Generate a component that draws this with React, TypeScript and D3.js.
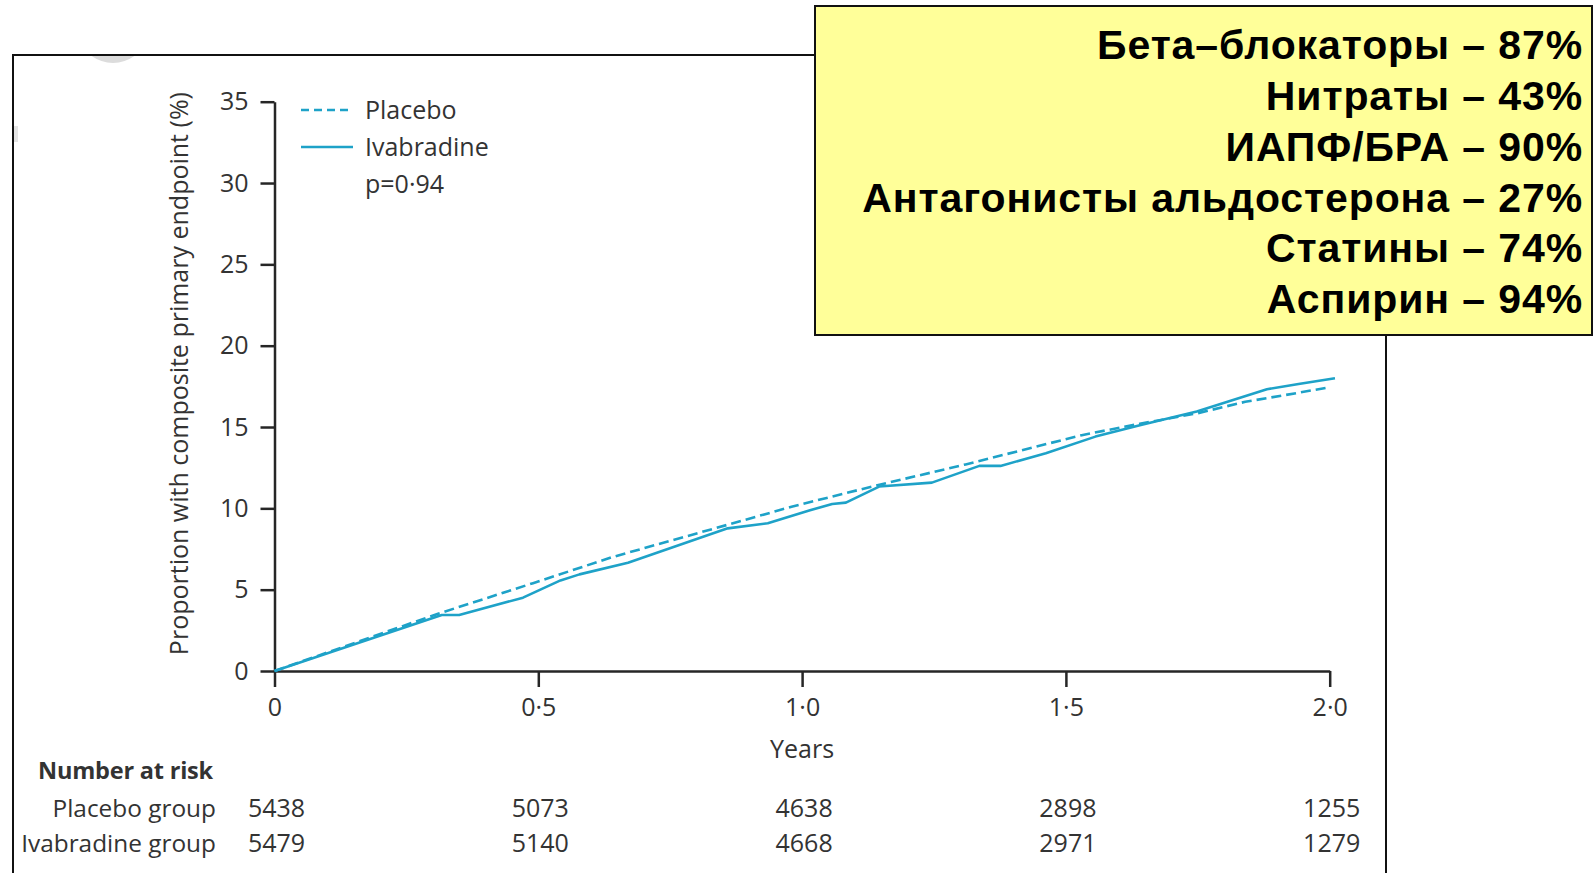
import React, { useEffect, useRef } from "react";
import * as d3 from "d3";

// Kaplan–Meier style cumulative curves (years, % with composite primary endpoint)
const placeboYears = [0, 0.31, 0.49, 0.64, 0.86, 0.98, 1.14, 1.31, 1.53, 1.64, 1.75, 1.84, 1.94, 2.0];
const placeboPct = [0, 3.52, 5.4, 7.0, 9.0, 10.1, 11.4, 12.7, 14.5, 15.2, 15.85, 16.55, 17.1, 17.45];

const ivabradineYears = [0, 0.317, 0.35, 0.471, 0.542, 0.578, 0.67, 0.859, 0.935, 1.015, 1.057, 1.083, 1.146, 1.246, 1.336, 1.376, 1.462, 1.556, 1.642, 1.748, 1.881, 1.941, 2.01];
const ivabradinePct = [0, 3.44, 3.44, 4.51, 5.57, 5.94, 6.66, 8.77, 9.08, 9.88, 10.27, 10.35, 11.34, 11.58, 12.61, 12.61, 13.39, 14.41, 15.13, 15.95, 17.32, 17.65, 18.0];

// Axis ticks
const yTicks = [0, 5, 10, 15, 20, 25, 30, 35];
const xTicks = [0, 0.5, 1, 1.5, 2];

// Number at risk table
const riskTimes = [0, 0.5, 1, 1.5, 2];
const riskPlacebo = [5438, 5073, 4638, 2898, 1255];
const riskIvabradine = [5479, 5140, 4668, 2971, 1279];

// Concomitant therapy panel
const drugClasses = ["Бета–блокаторы", "Нитраты", "ИАПФ/БРА", "Антагонисты альдостерона", "Статины", "Аспирин"];
const drugPercents = [87, 43, 90, 27, 74, 94];

const W = 1594;
const H = 873;
const CURVE = "#1ea2c8";
const AXIS = "#262626";
const TEXT = "#333333";
const FONT = "'Open Sans', 'Noto Sans', sans-serif";

export default function App() {
  const xAxisRef = useRef<SVGGElement>(null);
  const yAxisRef = useRef<SVGGElement>(null);

  const x = d3.scaleLinear().domain([0, 2]).range([274.5, 1329.7]);
  const y = d3.scaleLinear().domain([0, 35]).range([671, 101.7]);

  const line = d3
    .line<[number, number]>()
    .x((d) => x(d[0]))
    .y((d) => y(d[1]));

  const placeboPath = line(placeboYears.map((t, i) => [t, placeboPct[i]]) as [number, number][]) || "";
  const ivabradinePath = line(ivabradineYears.map((t, i) => [t, ivabradinePct[i]]) as [number, number][]) || "";

  useEffect(() => {
    const fmt = (v: number) => (v === 0 ? "0" : d3.format(".1f")(v).replace(".", "·"));

    const gx = d3.select(xAxisRef.current);
    gx.selectAll("*").remove();
    gx.call(
      d3
        .axisBottom(x)
        .tickValues(xTicks)
        .tickSize(16)
        .tickSizeOuter(0)
        .tickPadding(11)
        .tickFormat((d) => fmt(d as number))
    );
    gx.select(".domain").attr("stroke", AXIS).attr("stroke-width", 2.5);
    gx.selectAll(".tick line").attr("stroke", AXIS).attr("stroke-width", 2.5);
    gx.selectAll(".tick text")
      .attr("fill", TEXT)
      .attr("font-size", 25)
      .attr("font-family", FONT);

    const gy = d3.select(yAxisRef.current);
    gy.selectAll("*").remove();
    gy.call(
      d3
        .axisLeft(y)
        .tickValues(yTicks)
        .tickSize(14)
        .tickSizeOuter(0)
        .tickPadding(12)
        .tickFormat((d) => String(d))
    );
    gy.select(".domain").attr("stroke", AXIS).attr("stroke-width", 2.5);
    gy.selectAll(".tick line").attr("stroke", AXIS).attr("stroke-width", 2.5);
    gy.selectAll(".tick text")
      .attr("fill", TEXT)
      .attr("font-size", 25)
      .attr("font-family", FONT);
  }, []);

  const boxX = 815;
  const boxY = 6;
  const boxW = 777;
  const boxH = 329;

  return (
    <svg
      width={W}
      height={H}
      viewBox={`0 0 ${W} ${H}`}
      style={{ position: "absolute", left: 0, top: 0, background: "#ffffff" }}
    >
      <rect x={0} y={0} width={W} height={H} fill="#ffffff" />

      {/* faint slide decoration above the frame */}
      <path d="M 90 55 Q 113 71 136 55 Z" fill="#dcdcdc" />
      <rect x={14} y={126} width={4} height={16} fill="#e4e4e4" />

      {/* figure frame */}
      <path d={`M 13 ${H + 2} L 13 55 L 1386 55 L 1386 ${H + 2}`} fill="none" stroke="#111" strokeWidth={2} />

      {/* y axis title */}
      <text
        transform="translate(178,373.6) rotate(-90)"
        textAnchor="middle"
        dominantBaseline="central"
        fontFamily={FONT}
        fontSize={25}
        fill={TEXT}
      >
        Proportion with composite primary endpoint (%)
      </text>

      <g ref={yAxisRef} transform={`translate(${x(0)},0)`} />
      <g ref={xAxisRef} transform={`translate(0,${y(0)})`} />

      {/* curves */}
      <path d={placeboPath} fill="none" stroke={CURVE} strokeWidth={2.6} strokeDasharray="10,5" />
      <path d={ivabradinePath} fill="none" stroke={CURVE} strokeWidth={2.6} strokeLinejoin="round" />

      {/* legend */}
      <line x1={301} x2={353} y1={110} y2={110} stroke={CURVE} strokeWidth={2.6} strokeDasharray="8,5" />
      <line x1={301} x2={353} y1={147} y2={147} stroke={CURVE} strokeWidth={2.6} />
      <g fontFamily={FONT} fontSize={25} fill={TEXT}>
        <text x={365} y={119}>Placebo</text>
        <text x={365} y={156}>Ivabradine</text>
        <text x={365} y={193}>p=0·94</text>
      </g>

      {/* x axis title */}
      <text x={x(1)} y={758} textAnchor="middle" fontFamily={FONT} fontSize={25} fill={TEXT}>
        Years
      </text>

      {/* number at risk */}
      <g fontFamily={FONT} fill={TEXT}>
        <text x={38} y={779} fontSize={23.5} fontWeight={700} letterSpacing={-0.2}>
          Number at risk
        </text>
        <text x={216} y={817} fontSize={24.4} textAnchor="end">
          Placebo group
        </text>
        <text x={216} y={852} fontSize={24.4} textAnchor="end">
          Ivabradine group
        </text>
        {riskTimes.map((t, i) => (
          <text key={`p${i}`} x={x(t) + 2} y={817} fontSize={25} textAnchor="middle">
            {riskPlacebo[i]}
          </text>
        ))}
        {riskTimes.map((t, i) => (
          <text key={`i${i}`} x={x(t) + 2} y={852} fontSize={25} textAnchor="middle">
            {riskIvabradine[i]}
          </text>
        ))}
      </g>

      {/* concomitant therapy panel */}
      <rect x={boxX} y={boxY} width={boxW} height={boxH} fill="#ffff99" stroke="#111" strokeWidth={2} />
      <g
        fontFamily="'Liberation Sans', Arial, sans-serif"
        fontWeight={700}
        fontSize={41}
        letterSpacing={0.9}
        fill="#000"
        textAnchor="end"
      >
        {drugClasses.map((name, i) => (
          <text key={name} x={1583} y={59.2 + i * 50.8}>
            {`${name} – ${drugPercents[i]}%`}
          </text>
        ))}
      </g>
    </svg>
  );
}
